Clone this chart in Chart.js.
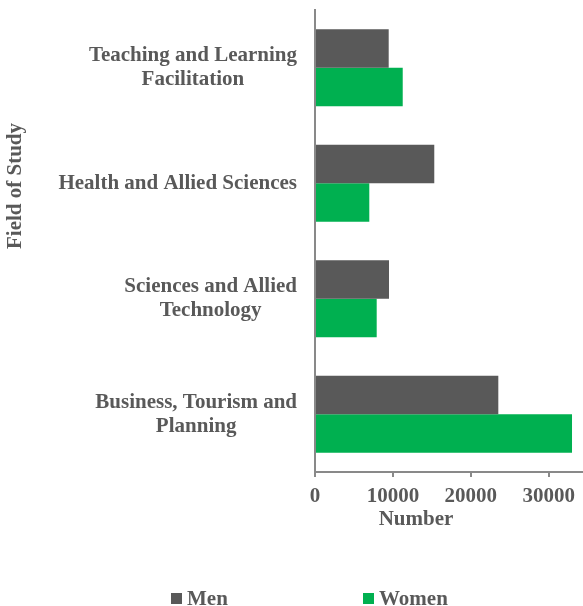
<!DOCTYPE html>
<html lang="en">
<head>
    <meta charset="UTF-8">
    <title>Field of Study by Sex</title>
    <script src="https://cdn.jsdelivr.net/npm/chart.js"></script>
    <style>
        body { margin: 0; background: #fff; font-family: "Liberation Serif", serif; }
        #wrap { position: relative; width: 583px; height: 606px; }
        .item { position: absolute; top: 586px; font-weight: bold; font-size: 21px; color: #595959; line-height: 24px; }
        .box { display: inline-block; width: 11px; height: 11px; margin-right: 5px; vertical-align: 1px; }
    </style>
</head>
<body>
<div id="wrap">
    <canvas id="chart" width="583" height="606"></canvas>
    <div class="item" style="left:171px"><span class="box" id="box0"></span><span id="lbl0"></span></div>
    <div class="item" style="left:363px"><span class="box" id="box1"></span><span id="lbl1"></span></div>
</div>

<script>
    // fields, top to bottom
    const categories = [
        ['Teaching and Learning', 'Facilitation'],
        ['Health and Allied Sciences'],
        ['Sciences and Allied', 'Technology'],
        ['Business, Tourism and', 'Planning']
    ];
    const men = [9460, 15310, 9500, 23530];
    const women = [11260, 6970, 7920, 32990];
    const seriesNames = ['Men', 'Women'];
    const xTicks = [0, 10000, 20000, 30000];
    const xTitle = 'Number';
    const yTitle = 'Field of Study';

    const textColor = '#595959';
    const axisColor = '#898989';
    const colors = ['#595959', '#00B050'];
    const font = { family: 'Liberation Serif', size: 21, weight: 'bold' };

    // legend in html
    seriesNames.forEach((name, i) => {
        document.getElementById('box' + i).style.background = colors[i];
        document.getElementById('lbl' + i).textContent = name;
    });

    // category labels (each block centred on itself, right edge near the axis) and axis titles
    const axisText = {
        id: 'axisText',
        afterDraw(chart) {
            const { ctx } = chart;
            const y = chart.scales.y;
            ctx.save();
            ctx.font = 'bold 21px "Liberation Serif"';
            ctx.fillStyle = textColor;
            ctx.textAlign = 'center';
            ctx.textBaseline = 'middle';
            categories.forEach((lines, i) => {
                const cy = y.getPixelForValue(i);
                const w = Math.max(...lines.map(l => ctx.measureText(l).width));
                const cx = y.right - 18 - w / 2;
                lines.forEach((l, j) => ctx.fillText(l, cx, cy + (j - (lines.length - 1) / 2) * 24));
            });
            ctx.fillText(xTitle, 416, 520);
            ctx.translate(16, 186);
            ctx.rotate(-Math.PI / 2);
            ctx.fillText(yTitle, 0, 0);
            ctx.restore();
        }
    };

    new Chart(document.getElementById('chart'), {
        type: 'bar',
        data: {
            labels: categories,
            datasets: [
                { label: seriesNames[0], data: men, backgroundColor: colors[0] },
                { label: seriesNames[1], data: women, backgroundColor: colors[1] }
            ]
        },
        options: {
            indexAxis: 'y',
            responsive: false,
            animation: false,
            layout: { padding: { top: 10, right: 0, bottom: 74, left: 0 } },
            datasets: { bar: { categoryPercentage: 0.667, barPercentage: 1 } },
            plugins: { legend: { display: false }, tooltip: { enabled: false } },
            scales: {
                x: {
                    min: 0,
                    max: 34400,
                    afterBuildTicks: s => { s.ticks = xTicks.map(v => ({ value: v })); },
                    grid: { drawOnChartArea: false, tickLength: 5, color: axisColor, lineWidth: 2 },
                    border: { color: axisColor, width: 2 },
                    ticks: { color: textColor, font: font, padding: 7, maxRotation: 0, callback: v => String(v) },
                    afterFit: s => { s.height = 60; }
                },
                y: {
                    grid: { drawOnChartArea: false, drawTicks: false },
                    border: { color: axisColor, width: 2 },
                    ticks: { display: false },
                    afterFit: s => { s.width = 315; }
                }
            }
        },
        plugins: [axisText]
    });
</script>
</body>
</html>
